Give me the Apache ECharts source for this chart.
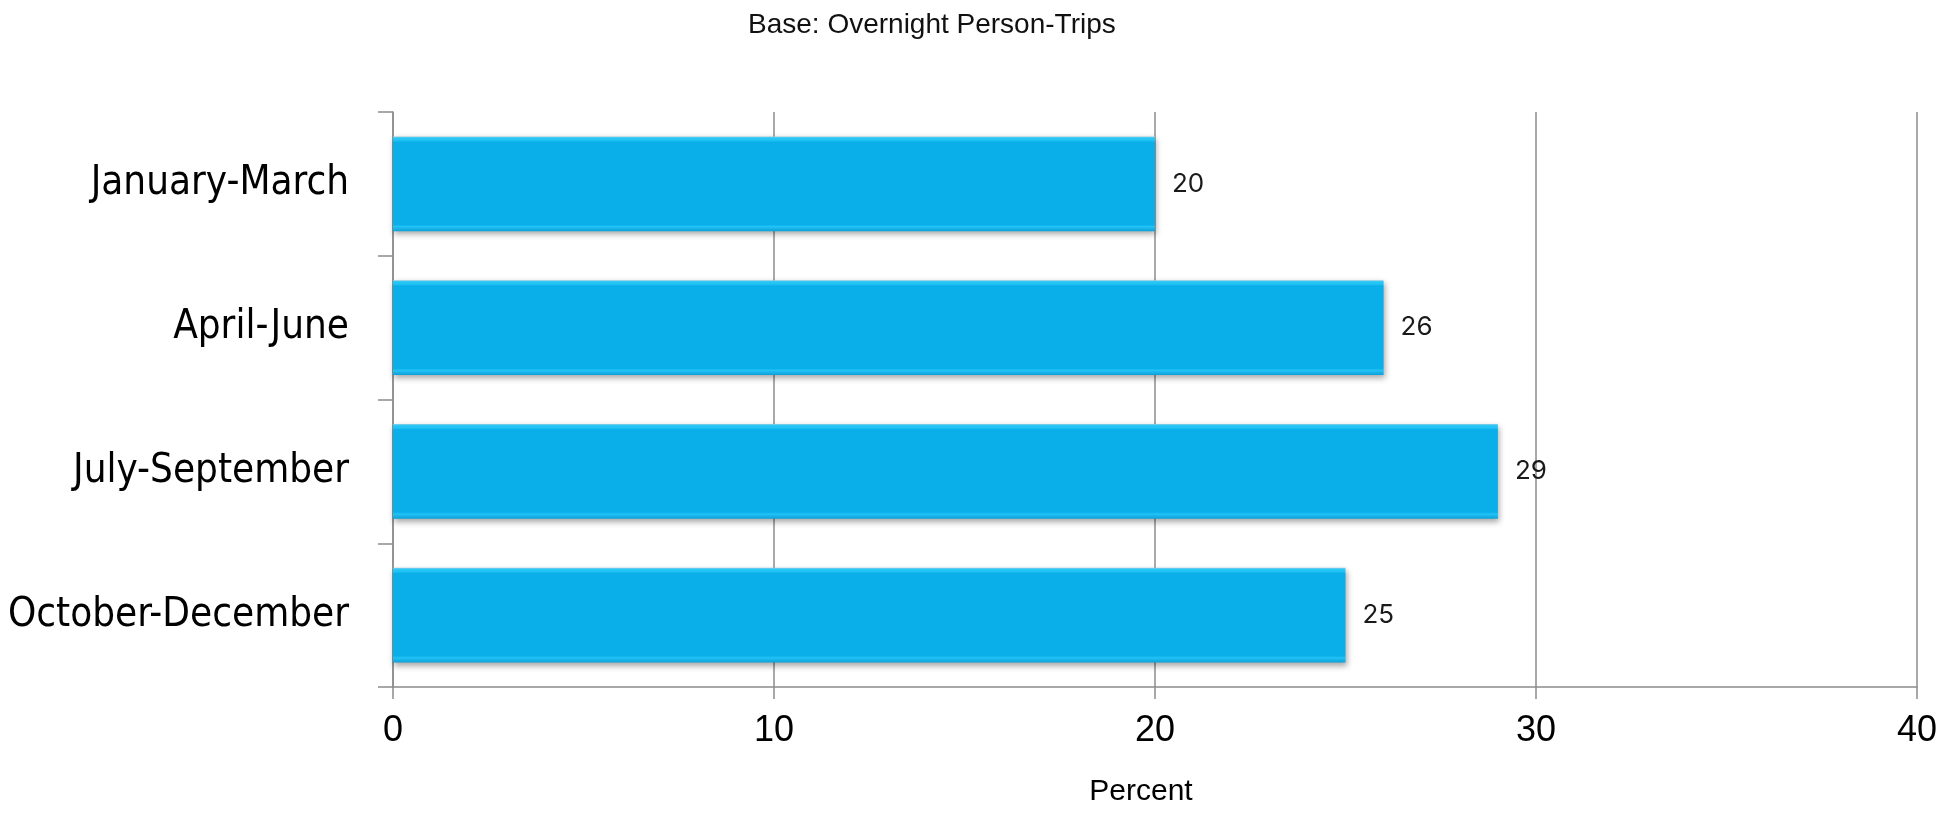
<!DOCTYPE html>
<html>
<head>
<meta charset="utf-8">
<script src="https://cdn.jsdelivr.net/npm/echarts@6/dist/echarts.min.js"></script>
<style>
html,body{margin:0;padding:0;background:#fff;}
#chart{width:1954px;height:813px;}
</style>
</head>
<body>
<div id="chart"></div>
<script>
const categories = ["January-March", "April-June", "July-September", "October-December"];
const percentValues = [20, 26, 29, 25];
const xTicks = { min: 0, max: 40, interval: 10 };
const titleText = "Base: Overnight Person-Trips";
const xAxisName = "Percent";

const chart = echarts.init(document.getElementById('chart'));
const gray = '#8c8c8c';
chart.setOption({
  animation: false,
  backgroundColor: '#ffffff',
  title: {
    text: titleText,
    left: 743, top: 6,
    textStyle: { fontFamily: 'Liberation Sans, Arial, sans-serif', fontSize: 28, fontWeight: 'normal', color: '#111' }
  },
  grid: { left: 393, right: 37, top: 112, bottom: 126, containLabel: false, outerBoundsMode: 'none' },
  xAxis: {
    type: 'value',
    min: xTicks.min, max: xTicks.max, interval: xTicks.interval,
    name: xAxisName,
    nameLocation: 'middle',
    nameGap: 90,
    nameTextStyle: { fontFamily: 'Liberation Sans, Arial, sans-serif', fontSize: 30, color: '#000', padding: [0, 28, 0, 0] },
    axisLine: { show: true, lineStyle: { color: gray, width: 1.5 } },
    axisTick: { show: true, length: 12, lineStyle: { color: gray, width: 1.5 } },
    axisLabel: { fontFamily: 'Liberation Sans, Arial, sans-serif', fontSize: 36, color: '#000', margin: 26 },
    splitLine: { show: true, lineStyle: { color: gray, width: 1.5 } }
  },
  yAxis: {
    type: 'category',
    data: categories,
    inverse: true,
    axisLine: { show: true, lineStyle: { color: gray, width: 1.5 } },
    axisTick: { show: true, length: 15, alignWithLabel: false, lineStyle: { color: gray, width: 1.5 } },
    axisLabel: { fontFamily: '"DejaVu Sans Condensed", "Liberation Sans Narrow", sans-serif', fontSize: 40, color: '#000', margin: 44 },
    splitLine: { show: false }
  },
  series: [{
    type: 'bar',
    data: percentValues,
    barCategoryGap: '34%',
    itemStyle: {
      color: new echarts.graphic.LinearGradient(0, 0, 0, 1, [
        { offset: 0, color: '#9ecfe0' },
        { offset: 0.015, color: '#2cc8f7' },
        { offset: 0.045, color: '#1ec0f3' },
        { offset: 0.06, color: '#0aaee9' },
        { offset: 0.93, color: '#0aaee9' },
        { offset: 0.95, color: '#22c3f6' },
        { offset: 1, color: '#0b9fd8' }
      ]),
      shadowColor: 'rgba(0,0,0,0.35)',
      shadowBlur: 6,
      shadowOffsetX: 1,
      shadowOffsetY: 3
    },
    label: {
      show: true,
      position: 'right',
      distance: 17,
      fontFamily: 'Inter, Lato, sans-serif',
      fontSize: 26,
      color: '#1a1a1a'
    }
  }]
});
</script>
</body>
</html>
